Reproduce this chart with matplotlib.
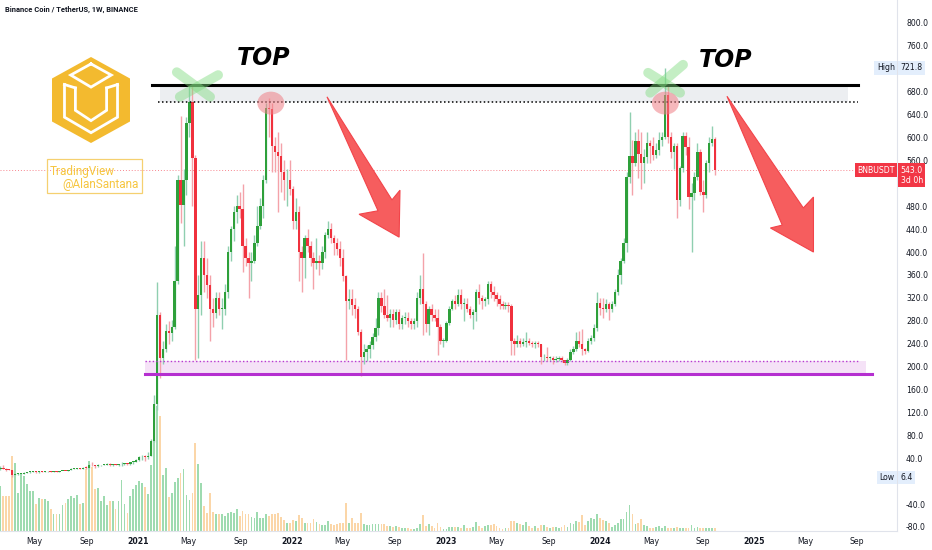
import numpy as np
import pandas as pd
import matplotlib
matplotlib.use("Agg")
import matplotlib.pyplot as plt
import matplotlib.dates as mdates
import matplotlib.transforms as mtransforms
from matplotlib.patches import Polygon, Ellipse, Rectangle

# BNB / USDT weekly candles (week starts Monday), 2020-02-03 .. 2024-09-30
first_open = 18.2

close_2020 = [20.5, 23.5, 22.0, 20.0,
              19.5, 11.5, 12.5, 12.8, 13.0,
              14.8, 15.4, 16.5, 16.5,
              15.8, 16.7, 16.5, 17.0,
              17.5, 16.8, 17.1, 16.0, 17.3,
              18.0, 17.9, 19.5, 21.5,
              22.0, 22.5, 22.0, 23.5, 23.0,
              29.0, 27.5, 26.0, 27.5,
              28.2, 29.0, 30.5, 28.0,
              28.5, 28.0, 29.2, 30.0, 30.5,
              29.5, 33.0, 34.0, 37.5]
high_2020 = [21.0, 26.5, 27.5, 23.5,
             21.5, 20.0, 14.0, 13.5, 13.8,
             15.5, 15.9, 16.9, 17.5,
             18.0, 17.0, 17.5, 17.5,
             18.2, 18.0, 17.6, 17.5, 17.8,
             18.6, 18.5, 20.0, 22.5,
             22.8, 23.4, 23.8, 24.2, 27.0,
             30.0, 33.5, 28.8, 29.5,
             29.0, 30.0, 31.5, 31.5,
             29.2, 29.6, 29.8, 34.0, 32.0,
             31.0, 34.0, 35.2, 38.5]
low_2020 = [18.0, 20.3, 21.5, 18.0,
            18.8, 6.4, 10.0, 11.5, 12.0,
            12.5, 14.5, 15.0, 15.8,
            15.0, 14.8, 16.0, 16.0,
            16.8, 16.3, 16.4, 15.7, 15.8,
            17.0, 17.4, 17.8, 19.3,
            20.5, 21.5, 21.0, 21.6, 21.0,
            22.5, 26.8, 23.0, 25.5,
            27.0, 27.5, 27.5, 27.0,
            26.2, 27.5, 27.0, 27.0, 28.5,
            28.0, 29.0, 29.8, 33.5]

close_2021 = [41.5, 43.0, 42.0, 44.5,
              70, 135, 290, 215,
              230, 262, 258, 270, 350,
              526, 482, 525, 625,
              662, 564, 300, 325, 390,
              360, 342, 300, 293,
              320, 300, 300, 330,
              400, 440, 470, 480, 475,
              410, 390, 380, 385,
              415, 445, 480, 526,
              652, 650, 585, 575, 568,
              540, 525, 525, 510]
high_2021 = [44.5, 46.0, 45.0, 51.0,
             73, 150, 348, 295,
             245, 275, 280, 282, 410,
             535, 638, 545, 635,
             692, 690, 570, 360, 420,
             420, 390, 360, 320,
             330, 330, 320, 345,
             410, 445, 480, 500, 505,
             518, 425, 400, 400,
             430, 480, 495, 535,
             660, 669, 660, 600, 610,
             590, 560, 545, 560]
low_2021 = [35.0, 37.0, 36.0, 38.0,
            44, 68, 125, 180,
            205, 225, 240, 245, 265,
            345, 450, 410, 500,
            600, 480, 211, 215, 290,
            330, 320, 245, 270,
            285, 290, 265, 290,
            320, 385, 420, 450, 460,
            365, 375, 320, 350,
            380, 410, 440, 460,
            520, 600, 540, 540, 470,
            505, 490, 480, 500]

close_2022 = [455, 470, 400, 390, 425,
              410, 390, 380, 385,
              380, 400, 430, 440,
              425, 415, 405, 390,
              358, 315, 318, 308, 300,
              260, 217, 225, 230,
              237, 251, 268, 320,
              305, 290, 285, 292, 282,
              295, 275, 285, 285,
              280, 275, 280, 320, 335,
              310, 275, 300, 290,
              285, 270, 245, 245]
high_2022 = [515, 495, 480, 410, 430,
             440, 420, 400, 425,
             395, 410, 435, 455,
             450, 430, 425, 420,
             405, 360, 335, 335, 320,
             305, 265, 240, 238,
             245, 258, 285, 330,
             330, 335, 325, 300, 300,
             300, 300, 290, 295,
             296, 285, 285, 330, 360,
             398, 315, 305, 310,
             300, 300, 275, 250]
low_2022 = [440, 440, 350, 330, 355,
            400, 375, 335, 370,
            360, 370, 390, 425,
            415, 395, 395, 375,
            350, 211, 300, 290, 285,
            255, 183, 205, 210,
            215, 230, 245, 255,
            295, 285, 280, 270, 270,
            275, 265, 265, 275,
            270, 265, 265, 270, 310,
            255, 260, 255, 280,
            280, 220, 240, 235]

close_2023 = [276, 300, 315, 310, 325,
              310, 310, 300, 290,
              295, 330, 320, 315,
              318, 345, 330, 325,
              318, 310, 305, 307, 305,
              245, 240, 245, 240,
              243, 245, 242, 240, 242,
              239, 216, 217, 215,
              215, 212, 214, 215,
              212, 206, 212, 225, 230,
              245, 240, 230, 228,
              245, 250, 268, 311]
high_2023 = [280, 305, 318, 325, 335,
             335, 320, 320, 305,
             300, 335, 345, 325,
             322, 350, 350, 340,
             330, 325, 315, 312, 312,
             310, 250, 255, 250,
             250, 260, 250, 245, 245,
             245, 240, 222, 235,
             218, 218, 218, 218,
             218, 212, 215, 230, 236,
             260, 262, 265, 232,
             250, 255, 275, 330]
low_2023 = [243, 272, 298, 300, 305,
            300, 280, 295, 285,
            265, 280, 310, 300,
            305, 310, 320, 315,
            305, 300, 300, 300, 295,
            220, 220, 235, 235,
            236, 235, 238, 235, 233,
            234, 205, 210, 210,
            210, 205, 208, 210,
            208, 202, 203, 210, 222,
            228, 235, 220, 222,
            226, 240, 245, 262]

close_2024 = [303, 300, 310, 300, 310,
              330, 360, 385, 416,
              531, 568, 555, 594,
              572, 555, 566, 590, 585,
              570, 578, 595, 600,
              674, 600, 575, 585,
              491, 547, 603, 584, 496,
              503, 531, 575, 505,
              500, 556, 590, 597, 543]
high_2024 = [320, 320, 318, 312, 315,
             335, 370, 390, 425,
             540, 645, 595, 610,
             615, 610, 580, 610, 595,
             600, 590, 610, 610,
             722, 690, 610, 590,
             590, 550, 610, 610, 600,
             520, 540, 590, 580,
             525, 560, 600, 620, 600]
low_2024 = [290, 285, 295, 282, 295,
            305, 325, 345, 380,
            400, 520, 500, 550,
            530, 510, 520, 555, 555,
            560, 565, 570, 585,
            598, 590, 565, 545,
            460, 480, 540, 570, 475,
            400, 490, 525, 500,
            470, 495, 540, 585, 535]

# weekly volume (relative units)
volume = [40, 45, 35, 35, 35, 75, 68, 38, 58, 55, 47,
          40, 40, 27, 33, 32, 32, 30, 22, 17, 17,
          17, 26, 28, 32, 35, 33, 36, 27, 28, 62,
          70, 64, 42, 43, 30, 35, 26, 30, 30, 22,
          30, 51, 27, 18, 35, 42, 46, 50, 48, 44,
          37, 66, 100, 125, 115, 56, 63, 34, 38, 49,
          53, 58, 62, 36, 31, 38, 88, 67, 48, 25,
          18, 38, 19, 17, 17, 17, 15, 18, 19, 18,
          22, 15, 20, 17, 17,
          14, 13, 19, 13, 13, 17, 15, 17, 17, 18,
          14, 11, 8, 8, 11, 10, 16, 13, 8, 8,
          8, 12, 9, 7, 6, 6, 10, 7, 6, 7,
          8, 8, 28, 8, 13, 8, 8, 18, 7, 6,
          6, 7, 7, 7, 7, 7, 5, 5, 4, 5,
          4, 3, 3, 3, 2, 2, 3, 7, 16, 5,
          7, 5, 3, 8, 4, 2, 2, 4, 4, 4,
          4, 3, 6, 3, 3, 4, 9, 5, 3, 5,
          6, 6, 7, 5, 3,
          2, 3, 3, 10, 10, 8, 7, 6, 9, 5,
          3, 5, 3, 6, 6, 4, 3, 4, 4, 3,
          4, 6, 4, 8, 7, 10, 9, 16, 6, 10,
          13, 12, 17, 13, 11, 10, 8, 4, 6, 8,
          12, 12, 19, 26, 17, 7, 8, 12, 6, 5,
          3, 3, 4, 5, 3, 5, 3, 3, 3, 4,
          3, 3, 3, 3, 6, 3, 4, 3, 3, 3,
          3, 3, 3]

tick_dates = ["2020-05-01", "2020-09-01", "2021-01-01", "2021-05-01", "2021-09-01",
              "2022-01-01", "2022-05-01", "2022-09-01", "2023-01-01", "2023-05-01",
              "2023-09-01", "2024-01-01", "2024-05-01", "2024-09-01", "2025-01-01",
              "2025-05-01", "2025-09-01"]
tick_labels = ["May", "Sep", "2021", "May", "Sep", "2022", "May", "Sep", "2023", "May",
               "Sep", "2024", "May", "Sep", "2025", "May", "Sep"]
price_ticks = [800, 760, 680, 640, 600, 560, 480, 440, 400, 360, 320, 280, 240,
               200, 160, 120, 80, 40, -40, -80]

closes = np.array(close_2020 + close_2021 + close_2022 + close_2023 + close_2024, float)
highs = np.array(high_2020 + high_2021 + high_2022 + high_2023 + high_2024, float)
lows = np.array(low_2020 + low_2021 + low_2022 + low_2023 + low_2024, float)
opens = np.concatenate([[first_open], closes[:-1]])
weeks = pd.date_range("2020-02-03", periods=len(closes), freq="7D")
x = mdates.date2num(weeks)


def d(s):
    return mdates.date2num(pd.Timestamp(s))


GREEN, RED = "#2ea03a", "#f0313d"
up = closes >= opens

fig = plt.figure(figsize=(9.32, 5.5), dpi=100)
fig.patch.set_facecolor("white")
ax = fig.add_axes([0, 19 / 550, 897 / 932, 531 / 550])
ax2 = ax.twinx()
ax.set_zorder(ax2.get_zorder() + 1)
ax.patch.set_visible(False)

# volume underneath
ax2.bar(x, volume, width=4.2, color=np.where(up, "#9edbb0", "#fbd6a8"), linewidth=0)
ax2.set_ylim(0, max(volume) / 0.235)
ax2.axis("off")

# zones
ax.fill_between([d("2021-02-22"), d("2025-08-12")], 662, 692, color="#eceef1", zorder=1, lw=0)
ax.plot([d("2021-02-03"), d("2025-09-04")], [692, 692], color="black", lw=2.2, zorder=6)
ax.plot([d("2021-02-17"), d("2025-09-04")], [662, 662], color="black", lw=1.1,
        ls=(0, (1, 1.6)), zorder=6)
ax.fill_between([d("2021-01-18"), d("2025-09-23")], 187, 210, color="#f5e2f7", zorder=1, lw=0)
ax.plot([d("2021-01-18"), d("2025-09-09")], [210, 210], color="#b83ad0", lw=1.0,
        ls=(0, (1, 1.6)), zorder=6)
ax.plot([d("2021-01-18"), d("2025-10-07")], [187, 187], color="#b52fd0", lw=2.2, zorder=6)

# last price line
ax.axhline(543, color="#f23645", lw=0.7, ls=(0, (1, 2)), alpha=0.6, zorder=2)

# candles
ax.vlines(x, lows, highs, colors=np.where(up, "#8fcfb0", "#f4a2a9"), lw=1.0, zorder=3)
ax.bar(x, np.maximum(np.abs(closes - opens), 1.5), bottom=np.minimum(opens, closes),
       width=5.6, color=np.where(up, GREEN, RED), linewidth=0, zorder=4)

# markers at the tops
for pts in [[("2021-04-03", 714), ("2021-06-21", 671)], [("2021-04-10", 671), ("2021-07-10", 709)],
            [("2024-04-24", 713), ("2024-07-09", 678)], [("2024-04-29", 678), ("2024-07-16", 727)]]:
    ax.plot([d(p[0]) for p in pts], [p[1] for p in pts], color="#7edb7e", alpha=0.45,
            lw=7, solid_capstyle="round", zorder=7)
for c in ["2021-11-12", "2024-06-04"]:
    ax.add_patch(Ellipse((d(c), 660), 64, 40, fc="#ef7f86", alpha=0.55, ec="none", zorder=7))

# arrows
arrows = [[("2022-03-25", 671), ("2022-07-24", 472), ("2022-06-09", 466), ("2022-09-12", 426),
           ("2022-09-14", 508), ("2022-08-26", 491)],
          [("2024-10-28", 672), ("2025-03-08", 447), ("2025-02-08", 442), ("2025-05-21", 400),
           ("2025-05-21", 496), ("2025-04-27", 477)]]
for arr in arrows:
    ax.add_patch(Polygon([(d(a), p) for a, p in arr], closed=True, fc="#f65d5e",
                         ec="#f2444a", lw=0.8, zorder=8))

ax.text(d("2021-10-27"), 739, "TOP", fontsize=17, fontweight="bold", fontstyle="italic",
        ha="center", va="center", color="black", zorder=9)
ax.text(d("2024-10-24"), 735, "TOP", fontsize=17, fontweight="bold", fontstyle="italic",
        ha="center", va="center", color="black", zorder=9)

ax.set_xlim(d("2020-02-09"), d("2025-12-05"))
ax.set_ylim(-87, 840)

ax.set_xticks(mdates.date2num(pd.to_datetime(tick_dates)))
ax.set_xticklabels(tick_labels)
for lbl in ax.get_xticklabels():
    if lbl.get_text().isdigit():
        lbl.set_fontweight("bold")
ax.tick_params(axis="x", length=0, pad=4.5, labelsize=5.6, colors="#131722")

ax.yaxis.tick_right()
ax.set_yticks(price_ticks)
ax.set_yticklabels([f"{v:.1f}" for v in price_ticks])
ax.tick_params(axis="y", length=0, pad=6.5, labelsize=5.6, colors="#131722")
for s in ["top", "left"]:
    ax.spines[s].set_visible(False)
for s in ["right", "bottom"]:
    ax.spines[s].set_color("#e0e3eb")
    ax.spines[s].set_linewidth(0.8)

# price scale labels
trans = mtransforms.blended_transform_factory(ax.transAxes, ax.transData)
blue_box = dict(boxstyle="square,pad=0.3", fc="#e3eefc", ec="none")
red_box = dict(boxstyle="square,pad=0.3", fc="#f23645", ec="none")
ax.text(0.9975, 721.8, "High", transform=trans, ha="right", va="center", fontsize=5.6,
        color="#131722", bbox=blue_box, clip_on=False, zorder=10)
ax.text(1.004, 721.8, "721.8", transform=trans, ha="left", va="center", fontsize=5.6,
        color="#131722", bbox=blue_box, clip_on=False, zorder=10)
ax.text(0.9975, 6.4, "Low", transform=trans, ha="right", va="center", fontsize=5.6,
        color="#131722", bbox=blue_box, clip_on=False, zorder=10)
ax.text(1.004, 6.4, "6.4", transform=trans, ha="left", va="center", fontsize=5.6,
        color="#131722", bbox=blue_box, clip_on=False, zorder=10)
ax.text(0.9975, 543, "BNBUSDT", transform=trans, ha="right", va="center", fontsize=5.6,
        color="white", bbox=red_box, clip_on=False, zorder=10)
ax.text(1.004, 551, "543.0\n3d 0h", transform=trans, ha="left", va="top", fontsize=5.6,
        color="white", bbox=red_box, clip_on=False, zorder=10, linespacing=1.15)

fig.text(5 / 932, 1 - 10 / 550, "Binance Coin / TetherUS, 1W, BINANCE", fontsize=5.4,
         fontweight="bold", family="Roboto", color="#131722", va="center")

# watermark
fig.text(50 / 932, 1 - 175 / 550, "TradingView", fontsize=8.5, color="#f6c640",
         family="Roboto", va="baseline")
fig.text(139 / 932, 1 - 188 / 550, "@AlanSantana", fontsize=8.5, color="#f6c640",
         family="Roboto", va="baseline", ha="right")
fig.patches.append(Rectangle((47 / 932, 1 - 193 / 550), 95 / 932, 34 / 550,
                             transform=fig.transFigure, fill=False, ec="#f5d070", lw=0.9))

# BNB cube logo
lg = fig.add_axes([52 / 932, 1 - 143 / 550, 78 / 932, 86 / 550])
lg.set_xlim(0, 100)
lg.set_ylim(100, 0)
lg.axis("off")
lg.add_patch(Polygon([(50, 0), (100, 25), (100, 75), (50, 100), (0, 75), (0, 25)],
                     closed=True, fc="#f3ba2f", ec="none"))
wk = dict(color="white", lw=2.0, solid_joinstyle="miter")
lg.plot([50, 76, 50, 24, 50], [8, 21, 35, 21, 8], **wk)
lg.plot([16, 16, 50, 84, 84], [32, 70, 88, 70, 32], **wk)
lg.plot([30, 30, 50, 70, 70], [36, 62, 74, 62, 36], **wk)
lg.plot([16, 30], [32, 36], **wk)
lg.plot([84, 70], [32, 36], **wk)

fig.savefig("out.png", dpi=100, facecolor="white")
